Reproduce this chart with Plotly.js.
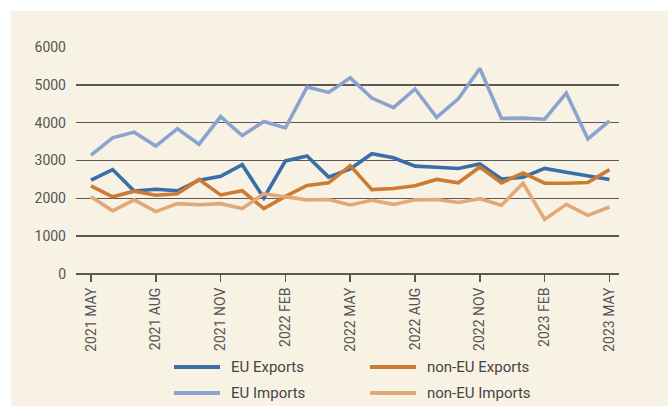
<!DOCTYPE html>
<html>
<head>
<meta charset="utf-8">
<script src="https://cdn.plot.ly/plotly-3.0.1.min.js"></script>
<style>
html,body{margin:0;padding:0;background:#ffffff;}
#wrap{position:relative;width:668px;height:406px;overflow:hidden;}
#bg{position:absolute;left:11px;top:11px;width:657px;height:395px;background:#f8f2e5;}
#chart{position:absolute;left:0;top:0;width:668px;height:406px;}
</style>
</head>
<body>
<div id="wrap"><div id="bg"></div><div id="chart"></div></div>
<script>
const months = ["2021 MAY","2021 JUN","2021 JUL","2021 AUG","2021 SEP","2021 OCT","2021 NOV","2021 DEC",
  "2022 JAN","2022 FEB","2022 MAR","2022 APR","2022 MAY","2022 JUN","2022 JUL","2022 AUG","2022 SEP",
  "2022 OCT","2022 NOV","2022 DEC","2023 JAN","2023 FEB","2023 MAR","2023 APR","2023 MAY"];
const tickLabels = ["2021 MAY","2021 AUG","2021 NOV","2022 FEB","2022 MAY","2022 AUG","2022 NOV","2023 FEB","2023 MAY"];
const euExports = [2480,2760,2190,2240,2200,2480,2580,2890,2010,2990,3120,2560,2775,3180,3070,2850,2820,2790,2910,2510,2560,2790,2690,2590,2500];
const euImports = [3140,3600,3750,3380,3840,3430,4160,3660,4030,3860,4940,4800,5185,4650,4400,4890,4140,4630,5430,4110,4120,4090,4780,3570,4050];
const nonEuExports = [2330,2040,2190,2080,2120,2500,2090,2200,1730,2050,2340,2410,2865,2230,2260,2330,2500,2410,2830,2410,2670,2400,2400,2420,2760];
const nonEuImports = [2040,1670,1960,1650,1860,1830,1860,1730,2120,2050,1960,1970,1825,1950,1840,1960,1970,1890,1990,1820,2400,1440,1840,1550,1770];

const seriesNames = ['EU Exports','non-EU Exports','EU Imports','non-EU Imports'];
const seriesColors = ['#3a6ea9','#cd7a33','#8aa3cf','#e2a878'];
const seriesValues = [euExports, nonEuExports, euImports, nonEuImports];

const font = "'Liberation Sans Narrow', 'Roboto', 'Liberation Sans', sans-serif";
const data = seriesNames.map((n, i) => ({
  type:'scatter', mode:'lines', name:n, x:months, y:seriesValues[i],
  line:{color:seriesColors[i], width:3.6}, hoverinfo:'skip'
}));

// custom legend (2 x 2 grid), paper coordinates
const legX = [[0.1805,0.2652,0.2818],[0.5414,0.6262,0.6436]];
const legY = [-0.4097,-0.5242];
const shapes = [], annotations = [];
seriesNames.forEach((n, i) => {
  const col = i % 2, row = Math.floor(i / 2);
  shapes.push({type:'line', xref:'paper', yref:'paper', x0:legX[col][0], x1:legX[col][1],
    y0:legY[row], y1:legY[row], line:{color:seriesColors[i], width:4}});
  annotations.push({xref:'paper', yref:'paper', x:legX[col][2], y:legY[row], xanchor:'left', yanchor:'middle',
    text:n, showarrow:false, font:{family:font, size:15, color:'#444444'}});
});

const layout = {
  width:668, height:406,
  margin:{l:76, r:49, t:47, b:132},
  paper_bgcolor:'rgba(0,0,0,0)', plot_bgcolor:'rgba(0,0,0,0)',
  font:{family:font, color:'#555555', size:13},
  showlegend:false,
  shapes:shapes, annotations:annotations,
  xaxis:{type:'category', range:[-0.694, 24.44], tickmode:'array', tickvals:tickLabels, ticktext:tickLabels,
    tickangle:-90, ticks:'outside', ticklen:7, tickwidth:1.5, tickcolor:'#555555',
    showgrid:false, zeroline:false, showline:false, fixedrange:true, automargin:false,
    tickfont:{family:font, size:14, color:'#555555'}},
  yaxis:{range:[0,6000], tickvals:[0,1000,2000,3000,4000,5000,6000], ticks:'',
    showgrid:true, gridcolor:'#5c5752', gridwidth:1.4, zeroline:true, zerolinecolor:'#5c5752', zerolinewidth:1.5,
    showline:false, automargin:false, ticklabelstandoff:9, tickfont:{family:font, size:14, color:'#555555'}, fixedrange:true}
};
Plotly.newPlot('chart', data, layout, {displayModeBar:false, staticPlot:true});
</script>
</body>
</html>
